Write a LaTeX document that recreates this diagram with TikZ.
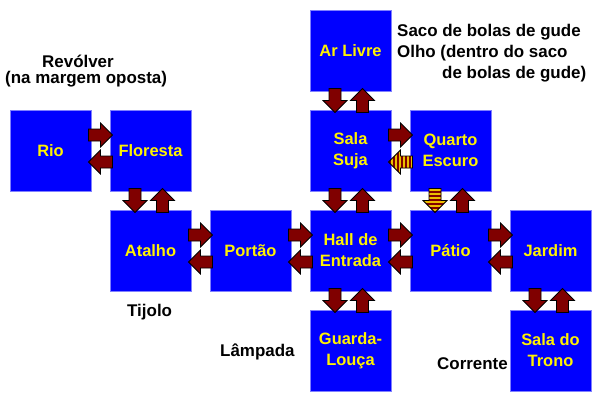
\documentclass[tikz,border=0pt]{standalone}
\usepackage{fontspec}
\setmainfont{Liberation Sans}
\usetikzlibrary{calc}
\definecolor{maroon}{RGB}{128,0,0}
\definecolor{roomblue}{RGB}{0,0,255}
\definecolor{roomedge}{RGB}{128,128,255}
\definecolor{stripe}{RGB}{235,190,0}
\newcommand\roomH[3][barrow]{%
  \pic at ($(#2.east)!0.5!(#3.west)+(0,-15.5)$) {barrow};
  \pic[rotate=180] at ($(#2.east)!0.5!(#3.west)+(0,11.5)$) {#1};
}
\newcommand\roomV[3][barrow]{%
  \pic[rotate=-90] at ($(#2.south)!0.5!(#3.north)+(-15.5,0)$) {#1};
  \pic[rotate=90] at ($(#2.south)!0.5!(#3.north)+(12,0)$) {barrow};
}
\begin{document}
\begin{tikzpicture}[x=1bp,y=-1bp,
  room/.style={draw=roomedge,fill=roomblue,line width=0.7bp,minimum size=81bp,
    inner sep=0pt,outer sep=0pt,text=yellow,align=center,
    font=\fontsize{16.5}{21}\selectfont\bfseries},
  note/.style={anchor=base west,inner sep=0pt,text=black,
    font=\fontsize{17}{21}\selectfont\bfseries},
  barrow/.pic={
    \filldraw[fill=maroon,draw=black,line width=0.8bp,line join=miter]
      (-12,-6) -- (0,-6) -- (0,-12) -- (12,0) -- (0,12) -- (0,6) -- (-12,6) -- cycle;
  },
  sarrow/.pic={
    \begin{scope}
      \clip (-12,-6) -- (0,-6) -- (0,-12) -- (12,0) -- (0,12) -- (0,6) -- (-12,6) -- cycle;
      \fill[maroon] (-13,-13) rectangle (13,13);
      \foreach \k in {-12,-8,...,12} \fill[stripe] (\k,-13) rectangle (\k+2,13);
    \end{scope}
    \draw[black,line width=0.8bp,line join=miter]
      (-12,-6) -- (0,-6) -- (0,-12) -- (12,0) -- (0,12) -- (0,6) -- (-12,6) -- cycle;
  }]
\fill[white] (0,0) rectangle (601,401);
\useasboundingbox (0,0) rectangle (601,401);

\node[room] (arlivre)  at (350.5,50.5)  {Ar Livre};
\node[room] (rio)      at (50.5,150.5)  {Rio};
\node[room] (floresta) at (150.5,150.5) {Floresta};
\node[room] (salasuja) at (350.5,150.5) {Sala\\Suja};
\node[room] (quarto)   at (450.5,150.5) {Quarto\\Escuro};
\node[room] (atalho)   at (150.5,250.5) {Atalho};
\node[room] (portao)   at (250.5,250.5) {Portão};
\node[room] (hall)     at (350.5,250.5) {Hall de\\Entrada};
\node[room] (patio)    at (450.5,250.5) {Pátio};
\node[room] (jardim)   at (550.5,250.5) {Jardim};
\node[room] (guarda)   at (350.5,350.5) {Guarda-\\Louça};
\node[room] (trono)    at (550.5,350.5) {Sala do\\Trono};

\roomH{rio}{floresta}
\roomH[sarrow]{salasuja}{quarto}
\roomH{atalho}{portao}
\roomH{portao}{hall}
\roomH{hall}{patio}
\roomH{patio}{jardim}
\roomV{floresta}{atalho}
\roomV{arlivre}{salasuja}
\roomV{salasuja}{hall}
\roomV[sarrow]{quarto}{patio}
\roomV{hall}{guarda}
\roomV{jardim}{trono}

\node[note] (revolver) at (42,67) {Revólver};
\node[note] (margem) at (5,83) {(na margem oposta)};
\node[note] (saco) at (397,36) {Saco de bolas de gude};
\node[note] (olho) at (397,57) {Olho (dentro do saco};
\node[note] (olho2) at (442,78) {de bolas de gude)};
\node[note] (tijolo) at (127,316) {Tijolo};
\node[note] (lampada) at (220,356) {Lâmpada};
\node[note] (corrente) at (437,369) {Corrente};
\end{tikzpicture}
\end{document}
